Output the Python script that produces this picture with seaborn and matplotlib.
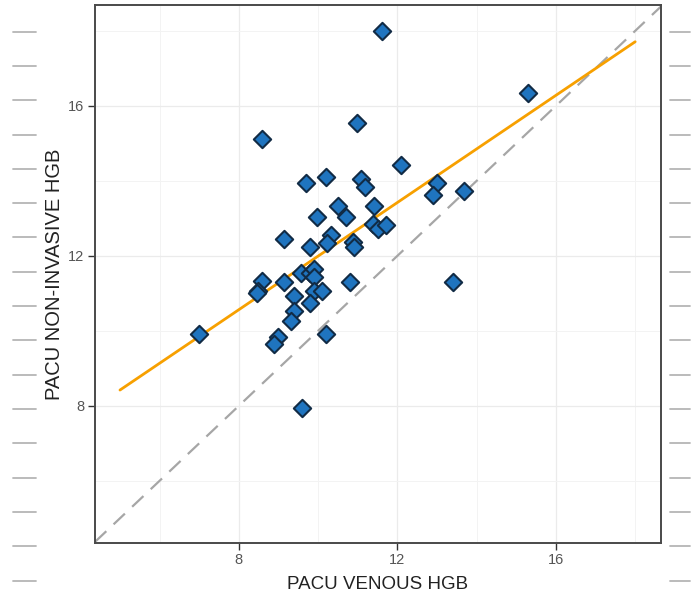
import numpy as np
import matplotlib
matplotlib.use("Agg")
import matplotlib.pyplot as plt
from matplotlib.lines import Line2D
from matplotlib.markers import MarkerStyle
import seaborn as sns
import pandas as pd

sns.set_theme(style="white")
plt.rcParams["font.family"] = ["Liberation Sans", "DejaVu Sans"]

# ---------- data ----------
venous_hgb = [12.08, 9.69, 10.19, 11.07, 11.17, 10.49, 11.40, 9.98, 10.70, 11.39,
              11.51, 11.70, 10.32, 10.23, 10.89, 10.90, 9.13, 9.80, 8.58, 8.49,
              8.45, 9.13, 9.58, 9.80, 9.90, 9.90, 10.80, 9.39, 9.90, 10.09,
              9.80, 9.39, 9.31, 7.00, 8.99, 8.89, 10.21, 9.60, 11.61, 15.30,
              10.99, 8.59, 12.99, 12.90, 13.68, 13.40]
noninv_hgb = [14.43, 13.95, 14.11, 14.05, 13.84, 13.34, 13.34, 13.03, 13.03, 12.85,
              12.72, 12.83, 12.56, 12.35, 12.36, 12.23, 12.45, 12.23, 11.33, 11.07,
              11.00, 11.31, 11.55, 11.55, 11.65, 11.43, 11.31, 10.94, 11.06, 11.06,
              10.74, 10.52, 10.25, 9.92, 9.83, 9.64, 9.92, 7.94, 18.01, 16.34,
              15.54, 15.12, 13.94, 13.61, 13.72, 11.31]

# fitted line end points
fit_x = [5.0, 18.0]
fit_y = [8.42, 17.71]

df = pd.DataFrame({"venous": venous_hgb, "noninvasive": noninv_hgb})
fit = pd.DataFrame({"x": fit_x, "y": fit_y})

fig = plt.figure(figsize=(6.91, 5.96), dpi=100)
ax = fig.add_axes([0.1375, 0.0889, 0.819, 0.9027])

# identity line
ax.axline((0, 0), slope=1, color="#a6a6a6", linestyle=(0, (7, 4.5)), linewidth=1.6, zorder=1)

sns.lineplot(data=fit, x="x", y="y", color="#f7a000", linewidth=2.0, ax=ax, zorder=2)

diamond = MarkerStyle("D", joinstyle="round")
sns.scatterplot(data=df, x="venous", y="noninvasive", marker=diamond, s=78,
                color="#1f74bf", edgecolor="#112b45", linewidth=1.5, ax=ax, zorder=3)

ax.set_xlim(4.37, 18.65)
ax.set_ylim(4.34, 18.69)
ax.set_xticks([8, 12, 16])
ax.set_yticks([8, 12, 16])
ax.set_xticks([6, 10, 14, 18], minor=True)
ax.set_yticks([6, 10, 14, 18], minor=True)
ax.grid(True, which="major", color="#ebebeb", linewidth=0.9)
ax.grid(True, which="minor", color="#f3f3f3", linewidth=0.7)
ax.set_axisbelow(True)

for side in ax.spines.values():
    side.set_color("#4a4a4a")
    side.set_linewidth(1.4)

ax.tick_params(axis="both", which="major", length=5, width=1.0, color="#333333",
               labelsize=10.5, labelcolor="#555555", bottom=True, left=True, pad=2.5)
ax.tick_params(axis="both", which="minor", length=0)

ax.set_xlabel("PACU VENOUS HGB", fontsize=13.5, color="#222222", labelpad=6)
ax.set_ylabel("PACU NON-INVASIVE HGB", fontsize=14.5, color="#222222", labelpad=3)

# page margin marks visible in the scanned figure
for k in range(17):
    yy = 1 - (31.7 + 34.3 * k) / 596
    fig.add_artist(Line2D([13 / 691, 36 / 691], [yy, yy], color="#b5b5b5", linewidth=1.3))
    fig.add_artist(Line2D([670 / 691, 690 / 691], [yy, yy], color="#b5b5b5", linewidth=1.3))

fig.savefig("out.png", dpi=100)
